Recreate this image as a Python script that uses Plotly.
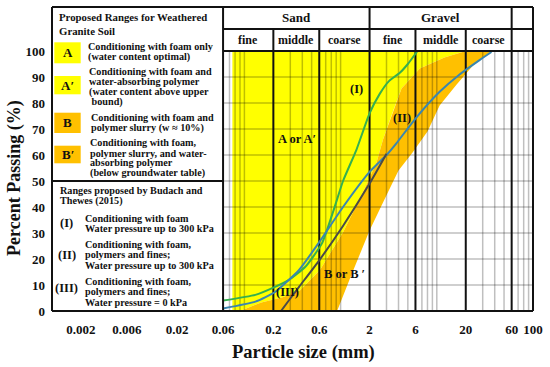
import numpy as np
import plotly.graph_objects as go

# ---------------- data ----------------
# Range A / A' (yellow): left edge and the boundary it shares with range B / B'
a_left_d = 0.075
ab_bound_d = [0.09, 0.15, 0.25, 0.38, 0.61, 1.05, 1.6, 2.36, 2.75, 3.5, 4.3, 6.65, 12, 20]
ab_bound_p = [0, 3.3, 5.3, 8, 15.8, 30, 43.5, 57, 65.8, 76.7, 85.6, 93.3, 97.5, 100]
# Range B / B' (orange): right boundary
b_right_d = [0.92, 1.3, 2.0, 3.0, 4.0, 5.6, 8, 10.7, 16, 24, 37]
b_right_p = [0, 14, 31, 44.5, 54, 61, 69, 79, 87, 94.6, 100]

# Budach and Thewes (2015) curves
c1_d = [0.06, 0.13, 0.2, 0.29, 0.43, 0.64, 0.85, 1.06, 1.46, 2.0, 2.55, 3.2, 4.1, 5.0, 6.3]
c1_p = [4, 6.2, 9, 12, 17, 26, 39, 50, 62, 76, 83.5, 88.5, 91.5, 95, 100]
c2_d = [0.06, 0.13, 0.21, 0.37, 0.6, 1.06, 2.0, 3.0, 3.8, 6.15, 10.7, 17, 27.8, 37]
c2_p = [1, 3.6, 7.4, 15.8, 26.5, 40, 53.5, 60, 64.5, 74.5, 84.3, 90.8, 96.5, 99.6]
c3_d = [0.24, 0.3, 0.37, 0.6, 1.05, 2.0, 3.0]
c3_p = [0, 4.8, 9.3, 19.5, 32.5, 49, 60.5]

x_tickvals = [0.002, 0.006, 0.02, 0.06, 0.2, 0.6, 2, 6, 20, 60, 100]
x_ticktext = ["0.002", "0.006", "0.02", "0.06", "0.2", "0.6", "2", "6", "20", "60", "100"]
y_tickvals = [0, 10, 20, 30, 40, 50, 60, 70, 80, 90, 100]

major_d = [0.2, 0.6, 2, 6, 20, 60]
groups = [("Sand", 0.06, 2), ("Gravel", 2, 60)]
subgroups = [("fine", 0.06, 0.2), ("middle", 0.2, 0.6), ("coarse", 0.6, 2),
             ("fine", 2, 6), ("middle", 6, 20), ("coarse", 20, 60)]

# ---------------- geometry ----------------
W, H = 550, 367
L, R, T, B = 52, 17, 7, 56
PW, PH = W - L - R, H - T - B
Y_TOP = 116.92          # top of header table in percent units
Y_MID = 108.5           # header row divider
X_MIN, X_MAX = 0.001, 100
PANEL = 0.06

def fx(px):
    return (px - L) / PW

def fy(py):
    return (H - B - py) / PH

YELLOW = "#FFFF00"
ORANGE = "#FFC000"
GRID = "rgba(0,0,0,0.25)"
FONT = "Liberation Serif"

fig = go.Figure()

# fills
fig.add_trace(go.Scatter(
    x=[a_left_d, a_left_d] + ab_bound_d[::-1],
    y=[0, 100] + ab_bound_p[::-1],
    fill="toself", fillcolor=YELLOW, mode="lines", line=dict(width=0),
    hoverinfo="skip", showlegend=False))
fig.add_trace(go.Scatter(
    x=ab_bound_d + b_right_d[::-1],
    y=ab_bound_p + b_right_p[::-1],
    fill="toself", fillcolor=ORANGE, mode="lines", line=dict(width=0),
    hoverinfo="skip", showlegend=False))

# grid lines (minor log grid in the right panel)
minor = []
for n in range(-2, 2):
    for k in range(1, 10):
        v = round(k * 10 ** n, 6)
        if PANEL < v < X_MAX and v not in major_d:
            minor.append(v)
gx, gy = [], []
for v in minor:
    gx += [v, v, None]
    gy += [0, 100, None]
for p in y_tickvals[1:-1]:
    gx += [PANEL, X_MAX, None]
    gy += [p, p, None]
fig.add_trace(go.Scatter(x=gx, y=gy, mode="lines", line=dict(color=GRID, width=1.5),
                         hoverinfo="skip", showlegend=False))

# major vertical lines
mx, my = [], []
for v in major_d:
    mx += [v, v, None]
    my += [0, 100, None]
fig.add_trace(go.Scatter(x=mx, y=my, mode="lines", line=dict(color="#111111", width=2),
                         hoverinfo="skip", showlegend=False))

# curves
fig.add_trace(go.Scatter(x=c1_d, y=c1_p, mode="lines", line=dict(color="#35b04f", width=2, shape="spline", smoothing=0.5),
                         showlegend=False))
fig.add_trace(go.Scatter(x=c2_d, y=c2_p, mode="lines", line=dict(color="#3a86b0", width=2, shape="spline", smoothing=0.5),
                         showlegend=False))
fig.add_trace(go.Scatter(x=c3_d, y=c3_p, mode="lines", line=dict(color="#4a4a4a", width=2, shape="spline", smoothing=0.5),
                         showlegend=False))

shapes = []
def line(x0, y0, x1, y1, w=2, ref="data"):
    if ref == "data":
        shapes.append(dict(type="line", xref="x", yref="y", x0=x0, y0=y0, x1=x1, y1=y1,
                           line=dict(color="#111111", width=w), layer="above"))
    else:
        shapes.append(dict(type="line", xref="paper", yref="paper", x0=x0, y0=y0, x1=x1, y1=y1,
                           line=dict(color="#111111", width=w), layer="above"))

# frame
line(0, 0, 1, 0, 2, "paper")
line(0, 1, 1, 1, 2, "paper")
line(0, 0, 0, 1, 2, "paper")
line(1, 0, 1, 1, 2, "paper")
# panel divider / header
line(PANEL, 0, PANEL, Y_TOP)
line(PANEL, 100, X_MAX, 100)
line(PANEL, Y_MID, X_MAX, Y_MID)
for v in [2, 60]:
    line(v, 100, v, Y_TOP)
for v in [0.2, 0.6, 6, 20]:
    line(v, 100, v, Y_MID)
# legend divider
line(X_MIN, 50, PANEL, 50)

ann = []
def gm(a, b):
    return (np.log10(a) + np.log10(b)) / 2

for name, a, b in groups:
    ann.append(dict(x=gm(a, b), y=(Y_MID + Y_TOP) / 2, xref="x", yref="y", text=name,
                    showarrow=False, xanchor="center", yanchor="middle",
                    font=dict(family=FONT, size=13, weight="bold", color="#111")))
for name, a, b in subgroups:
    ann.append(dict(x=gm(a, b), y=(100 + Y_MID) / 2, xref="x", yref="y", text=name,
                    showarrow=False, xanchor="center", yanchor="middle",
                    font=dict(family=FONT, size=12, weight="bold", color="#111")))

# in-chart labels
for txt, d, p in [("(I)", 1.47, 85.4), ("A or A′", 0.355, 66.2), ("(II)", 4.33, 74.2),
                  ("B or B ′", 1.106, 14.2), ("(III)", 0.283, 7.3)]:
    ann.append(dict(x=np.log10(d), y=p, xref="x", yref="y", text=txt, showarrow=False,
                    xanchor="center", yanchor="middle",
                    font=dict(family=FONT, size=12.5, weight="bold", color="#111")))

# legend box content
LF = 10.2
def ltext(txt, xpx, ypx, size=LF, anchor="left"):
    ann.append(dict(x=fx(xpx), y=fy(ypx), xref="paper", yref="paper", text=txt, showarrow=False,
                    xanchor=anchor, yanchor="middle",
                    font=dict(family=FONT, size=size, weight="bold", color="#111")))

ltext("Proposed Ranges for Weathered", 57, 17.5, 10.8)
ltext("Granite Soil", 57, 31.5, 10.8)

boxes = [("A", YELLOW, 42.3, 63.3, ["Conditioning with foam only", "(water content optimal)"], 86, [46.7, 56.7]),
         ("A′", YELLOW, 76, 94.3, ["Conditioning with foam and", "water-absorbing polymer",
                                   "(water content above upper", " bound)"], 86.5, [71.7, 81.7, 91.7, 101.7]),
         ("B", ORANGE, 112.7, 133, ["Conditioning with foam and", "polymer slurry (w ≈ 10%)"], 89, [117.3, 127.5]),
         ("B′", ORANGE, 145.7, 163.3, ["Conditioning with foam,", "polymer slurry, and water-",
                                       "absorbing polymer", "(below groundwater table)"], 88.3,
          [143, 153, 163, 173])]
for lab, col, y0, y1, lines, tx, tys in boxes:
    shapes.append(dict(type="rect", xref="paper", yref="paper", x0=fx(54.3), x1=fx(80.7),
                       y0=fy(y1), y1=fy(y0), fillcolor=col, line=dict(width=0), layer="above"))
    ltext(lab, 67.5, (y0 + y1) / 2, 13, "center")
    for t, yy in zip(lines, tys):
        ltext(t, tx, yy)

ltext("Ranges proposed by Budach and", 58, 190.5)
ltext("Thewes (2015)", 58, 201)
ranges = [("(I)", 223, ["Conditioning with foam", "Water pressure up to 300 kPa"], [218.3, 228.5]),
          ("(II)", 255, ["Conditioning with foam,", "polymers and fines;", "Water pressure up to 300 kPa"],
           [244.3, 254.5, 265]),
          ("(III)", 288.3, ["Conditioning with foam,", "polymers and fines;", "Water pressure = 0 kPa"],
           [281.5, 291.7, 302])]
for lab, ly, lines, tys in ranges:
    ltext(lab, 66.7, ly, 12.5, "center")
    for t, yy in zip(lines, tys):
        ltext(t, 82.7, yy)

# axis titles
ann.append(dict(x=fx(14), y=fy(178), xref="paper", yref="paper", text="Percent Passing (%)",
                textangle=-90, showarrow=False, xanchor="center", yanchor="middle",
                font=dict(family=FONT, size=18, weight="bold", color="#111")))
ann.append(dict(x=fx(303), y=fy(352), xref="paper", yref="paper", text="Particle size (mm)",
                showarrow=False, xanchor="center", yanchor="middle",
                font=dict(family=FONT, size=18.5, weight="bold", color="#111")))

fig.update_layout(
    width=W, height=H, margin=dict(l=L, r=R, t=T, b=B),
    paper_bgcolor="white", plot_bgcolor="white",
    shapes=shapes, annotations=ann, showlegend=False,
    xaxis=dict(type="log", range=[np.log10(X_MIN), np.log10(X_MAX)], tickvals=x_tickvals,
               ticktext=x_ticktext, tickangle=0, showgrid=False, zeroline=False, showline=False,
               ticks="", ticklabelstandoff=9,
               tickfont=dict(family=FONT, size=13, weight="bold", color="#111")),
    yaxis=dict(range=[0, Y_TOP], tickvals=y_tickvals, showgrid=False, zeroline=False, showline=False,
               ticks="", ticklabelstandoff=6,
               tickfont=dict(family=FONT, size=13, weight="bold", color="#111")),
)

fig.write_html("out.html", config={"displayModeBar": False},
               post_script="document.body.style.margin='0';document.body.style.overflow='hidden';")
